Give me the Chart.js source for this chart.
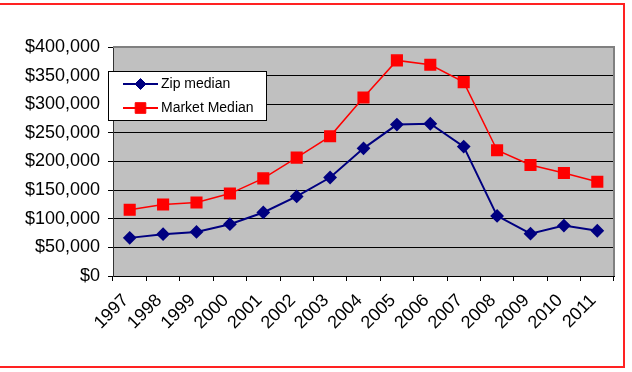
<!DOCTYPE html>
<html>
<head>
<meta charset="utf-8">
<script src="https://cdn.jsdelivr.net/npm/chart.js@4/dist/chart.umd.min.js"></script>
<style>
  body { margin: 0; background: #fff; overflow: hidden; }
  #frame { position: absolute; left: -5px; top: 3px; width: 628px; height: 361px;
           border: 2px solid #f22; border-left: none; }
  #wrap { position: absolute; left: 0; top: 0; width: 632px; height: 372px; }
</style>
</head>
<body>
<div id="frame"></div>
<div id="wrap"><canvas id="mycanvas" width="632" height="372"></canvas></div>
<script>
var years = ['1997','1998','1999','2000','2001','2002','2003','2004','2005','2006','2007','2008','2009','2010','2011'];
var zipMedian = [66600, 73000, 77000, 90500, 111000, 139000, 172000, 223000, 264500, 266000, 226000, 105000, 74000, 88000, 79000];
var marketMedian = [115600, 125000, 128500, 144000, 170500, 206700, 244000, 311800, 376600, 369000, 338700, 219600, 193900, 179900, 164700];
var yMin = 0, yMax = 400000, yStep = 50000;

var FONT = "'Liberation Sans', Arial, sans-serif";

// grey plot area + border
var plotBg = {
  id: 'plotBg',
  beforeDraw: function(chart) {
    var a = chart.chartArea, ctx = chart.ctx;
    ctx.save();
    ctx.fillStyle = '#c0c0c0';
    ctx.fillRect(a.left, a.top, a.right - a.left, a.bottom - a.top);
    ctx.restore();
  },
  afterDraw: function(chart) {
    var a = chart.chartArea, ctx = chart.ctx;
    ctx.save();
    ctx.strokeStyle = '#808080';
    ctx.lineWidth = 2;
    ctx.beginPath();
    ctx.moveTo(a.left, a.top);
    ctx.lineTo(a.right, a.top);
    ctx.lineTo(a.right, a.bottom);
    ctx.stroke();
    ctx.restore();
  }
};

// boxed legend sitting inside the plot
var boxLegend = {
  id: 'boxLegend',
  afterDraw: function(chart) {
    var ctx = chart.ctx;
    var x = 108, y = 71, w = 158, h = 49;
    ctx.save();
    ctx.fillStyle = '#fff';
    ctx.fillRect(x, y, w, h);
    ctx.strokeStyle = '#000';
    ctx.lineWidth = 1;
    ctx.strokeRect(x + 0.5, y + 0.5, w, h);
    chart.data.datasets.forEach(function(ds, i) {
      var ly = y + 13 + i * 24;
      ctx.strokeStyle = ds.borderColor;
      ctx.lineWidth = 2;
      ctx.beginPath();
      ctx.moveTo(123, ly);
      ctx.lineTo(158, ly);
      ctx.stroke();
      ctx.fillStyle = ds.pointBackgroundColor;
      ctx.strokeStyle = ds.pointBorderColor;
      ctx.lineWidth = 1;
      Chart.helpers.drawPoint(ctx, {
        pointStyle: ds.pointStyle, radius: ds.pointRadius, borderWidth: 1
      }, 140.5, ly);
      ctx.fillStyle = '#000';
      ctx.font = '14px ' + FONT;
      ctx.textBaseline = 'middle';
      ctx.fillText(ds.label, 161, ly);
    });
    ctx.restore();
  }
};

var ctx = document.getElementById('mycanvas');
var chart = new Chart(ctx, {
  type: 'line',
  data: {
    labels: years,
    datasets: [
      {
        label: 'Zip median',
        data: zipMedian,
        borderColor: '#000080',
        backgroundColor: '#000080',
        pointBackgroundColor: '#000080',
        pointBorderColor: '#000080',
        pointStyle: 'rectRot',
        pointRadius: 5.5,
        borderWidth: 2,
        tension: 0
      },
      {
        label: 'Market Median',
        data: marketMedian,
        borderColor: '#ff0000',
        backgroundColor: '#ff0000',
        pointBackgroundColor: '#ff0000',
        pointBorderColor: '#ff0000',
        pointStyle: 'rect',
        pointRadius: 7.5,
        borderWidth: 1.5,
        tension: 0
      }
    ]
  },
  options: {
    responsive: false,
    animation: false,
    layout: { padding: { top: 47, right: 18, left: 0, bottom: 0 } },
    plugins: { legend: { display: false }, tooltip: { enabled: false } },
    scales: {
      x: {
        offset: true,
        grid: { offset: true, drawOnChartArea: false, drawTicks: true, tickLength: 5, color: '#000' },
        border: { color: '#000', width: 1 },
        ticks: {
          color: '#000', font: { family: FONT, size: 18 },
          maxRotation: 45, minRotation: 45, autoSkip: false, padding: 9, labelOffset: -4
        },
        afterFit: function(s) { s.height = 96; }
      },
      y: {
        min: yMin, max: yMax,
        grid: { color: '#000', lineWidth: 1, tickLength: 5 },
        border: { color: '#333', width: 1 },
        ticks: {
          stepSize: yStep, color: '#000', padding: 8,
          font: { family: FONT, size: 18 },
          callback: function(v) { return '$' + v.toLocaleString('en-US'); }
        },
        afterFit: function(s) { s.width = 113; }
      }
    }
  },
  plugins: [plotBg, boxLegend]
});
</script>
</body>
</html>
